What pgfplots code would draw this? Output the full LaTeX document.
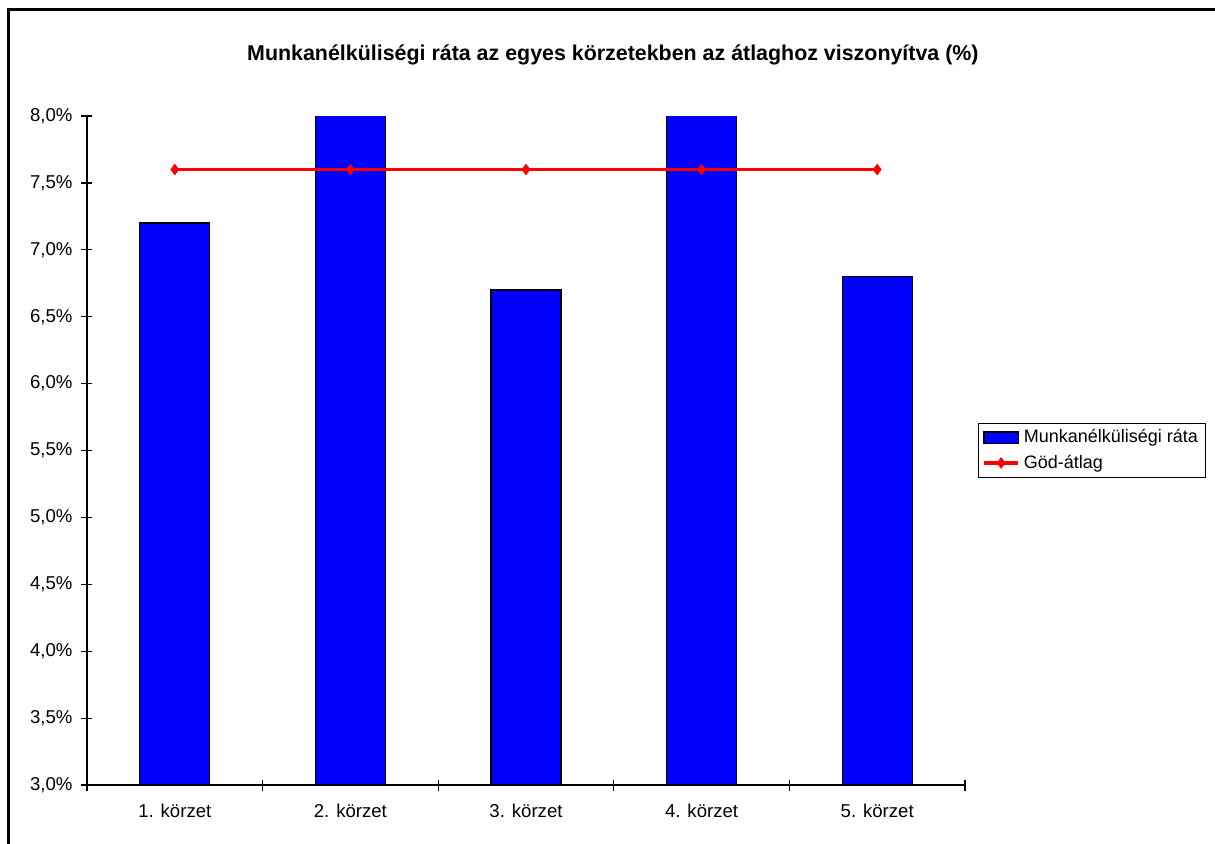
\documentclass[border=0pt]{standalone}
\usepackage{pgfplots}
\pgfplotsset{compat=1.18}
\usepackage{fontspec}
\setmainfont{Liberation Sans}

\definecolor{barblue}{RGB}{0,0,255}
\definecolor{linered}{RGB}{255,0,0}

\begin{document}
\begin{tikzpicture}
% page size: 1215 x 843 px at 0.5pt per px
\useasboundingbox (0,0) rectangle (607.5pt,421.5pt);
\draw[line width=1.5pt] (4.35pt,-3pt) -- (4.35pt,416.9pt) -- (612pt,416.9pt);
\begin{axis}[
    scale only axis,
    width=439pt, height=334.5pt,
    at={(43.5pt,29pt)}, anchor=south west,
    xmin=0.5, xmax=5.5,
    ymin=3, ymax=8,
    axis lines*=left,
    axis line style={-, line width=0.6pt},
    tick style={black, line width=0.6pt},
    tick align=center,
    major tick length=5.5pt,
    ytick={3,3.5,4,4.5,5,5.5,6,6.5,7,7.5,8},
    yticklabels={{3,0\%},{3,5\%},{4,0\%},{4,5\%},{5,0\%},{5,5\%},{6,0\%},{6,5\%},{7,0\%},{7,5\%},{8,0\%}},
    xtick={0.5,1.5,2.5,3.5,4.5,5.5},
    xticklabels={},
    extra x ticks={1,2,3,4,5},
    extra x tick labels={1. körzet,2. körzet,3. körzet,4. körzet,5. körzet},
    extra x tick style={major tick length=0pt},
    ticklabel style={font=\fontsize{9.3}{11}\selectfont},
    yticklabel style={xshift=-1pt},
    xticklabel style={yshift=-6pt},
    title={Munkanélküliségi ráta az egyes körzetekben az átlaghoz viszonyítva (\%)},
    title style={font=\bfseries\fontsize{10.7}{13}\selectfont, at={(0.599,1)}, anchor=center, yshift=24.5pt},
    legend style={at={(1.0148,0.541)}, anchor=north west, draw=black, line width=0.5pt,
        font=\fontsize{9}{11}\selectfont, inner xsep=2pt, inner ysep=1pt, row sep=0.5pt,
        cells={anchor=west}},
]
\addplot[ybar, bar width=35pt, fill=barblue, draw=black, line width=0.6pt, area legend]
    coordinates {(1,7.2) (2,8.5) (3,6.7) (4,8.5) (5,6.8)};
\addlegendentry{Munkanélküliségi ráta}
\addplot[color=linered, line width=1.6pt, mark=diamond*, mark size=2.6pt,
    mark options={fill=linered, draw=linered, line width=0.4pt}]
    coordinates {(1,7.6) (2,7.6) (3,7.6) (4,7.6) (5,7.6)};
\addlegendentry{Göd-átlag}
\end{axis}
\end{tikzpicture}
\end{document}
